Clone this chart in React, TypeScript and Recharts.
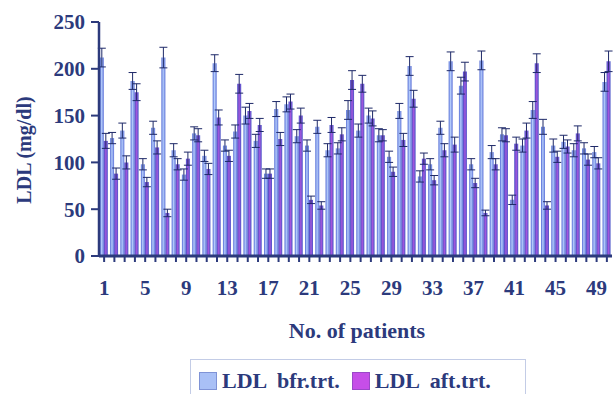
import React from 'react';
import {
  BarChart,
  Bar,
  XAxis,
  YAxis,
  ErrorBar,
  Label,
} from 'recharts';

// patient numbers on the x axis
const patients = [
  '1', '2', '3', '4', '5', '6', '7', '8', '9', '10',
  '11', '12', '13', '14', '15', '16', '17', '18', '19', '20',
  '21', '22', '23', '24', '25', '26', '27', '28', '29', '30',
  '31', '32', '33', '34', '35', '36', '37', '38', '39', '40',
  '41', '42', '43', '44', '45', '46', '47', '48', '49', '50',
];

// LDL before treatment (mg/dl)
const ldlBefore = [
  212, 126, 134, 187, 98, 137, 212, 113, 87, 131,
  107, 206, 118, 133, 150, 123, 88, 157, 162, 128,
  118, 138, 113, 115, 156, 134, 150, 129, 106, 155,
  203, 85, 98, 137, 208, 182, 98, 209, 111, 130,
  60, 118, 156, 138, 118, 122, 113, 115, 111, 186,
];

// LDL after treatment (mg/dl)
const ldlAfter = [
  123, 88, 100, 175, 79, 116, 46, 98, 104, 129,
  93, 148, 107, 184, 155, 140, 88, 125, 165, 150,
  60, 54, 140, 130, 188, 184, 147, 129, 90, 124,
  168, 104, 81, 113, 119, 197, 78, 46, 98, 129,
  120, 134, 206, 54, 106, 117, 131, 103, 99, 208,
];

// standard deviations
const sdBefore = [
  10, 6, 8, 9, 6, 7, 11, 7, 6, 7,
  6, 9, 6, 7, 9, 7, 5, 8, 8, 7,
  6, 7, 7, 6, 10, 7, 8, 7, 6, 8,
  10, 6, 6, 7, 10, 9, 6, 10, 7, 7,
  5, 7, 9, 8, 7, 7, 7, 6, 6, 10,
];

const sdAfter = [
  8, 6, 7, 9, 5, 7, 4, 6, 7, 7,
  6, 8, 6, 10, 8, 7, 5, 7, 8, 8,
  4, 4, 8, 7, 10, 9, 8, 6, 5, 7,
  9, 6, 5, 7, 8, 10, 5, 3, 6, 7,
  7, 8, 10, 4, 6, 7, 8, 6, 6, 11,
];

const yTicks = [0, 50, 100, 150, 200, 250];

const data = patients.map((p, i) => ({
  patient: p,
  before: ldlBefore[i],
  after: ldlAfter[i],
  beforeSd: sdBefore[i],
  afterSd: sdAfter[i],
}));

const NAVY = '#2c3a7c';
const FONT = '"Liberation Serif", "Times New Roman", serif';

// every patient gets a tick mark, only every fourth one a number
const PatientTick = (props: any) => {
  const { x, y, index, payload } = props;
  if (index % 4 !== 0) return <g />;
  return (
    <text
      x={x}
      y={y + 33}
      textAnchor="middle"
      fill={NAVY}
      fontFamily={FONT}
      fontWeight="bold"
      fontSize={21}
    >
      {payload.value}
    </text>
  );
};

const legendItems = [
  { name: 'LDL bfr.trt.', color: '#a9c0f6', border: '#7f93d6' },
  { name: 'LDL aft.trt.', color: '#c64ee8', border: '#9a48c8' },
];

export default function App() {
  return (
    <div
      style={{
        position: 'fixed',
        left: 0,
        top: 0,
        width: 616,
        height: 394,
        background: '#fff',
        overflow: 'hidden',
      }}
    >
      <BarChart
        width={616}
        height={394}
        data={data}
        margin={{ top: 22, right: 4, left: 0, bottom: 48 }}
        barCategoryGap="8%"
        barGap={0}
      >
        <defs>
          <linearGradient id="gradBefore" x1="0" y1="0" x2="1" y2="0">
            <stop offset="0%" stopColor="#5069d4" />
            <stop offset="45%" stopColor="#b4cbfb" />
            <stop offset="100%" stopColor="#5c72d8" />
          </linearGradient>
          <linearGradient id="gradAfter" x1="0" y1="0" x2="1" y2="0">
            <stop offset="0%" stopColor="#4650c6" />
            <stop offset="50%" stopColor="#a456dc" />
            <stop offset="100%" stopColor="#4a56c8" />
          </linearGradient>
        </defs>
        <XAxis
          dataKey="patient"
          interval={0}
          height={90}
          tick={<PatientTick />}
          tickSize={6}
          tickMargin={0}
          axisLine={{ stroke: NAVY, strokeWidth: 3 }}
          tickLine={{ stroke: NAVY, strokeWidth: 2 }}
        >
          <Label
            content={() => (
              <text
                x={357}
                y={338}
                textAnchor="middle"
                fill={NAVY}
                fontFamily={FONT}
                fontWeight="bold"
                fontSize={22}
              >
                No. of patients
              </text>
            )}
          />
        </XAxis>
        <YAxis
          width={99}
          domain={[0, 250]}
          ticks={yTicks}
          interval={0}
          tickSize={8}
          tickMargin={6}
          axisLine={{ stroke: NAVY, strokeWidth: 2.5 }}
          tickLine={{ stroke: NAVY, strokeWidth: 2 }}
          tick={{
            fill: NAVY,
            fontFamily: FONT,
            fontWeight: 'bold',
            fontSize: 21,
          }}
        >
          <Label
            content={() => (
              <text
                x={31}
                y={150}
                transform="rotate(-90 31 150)"
                textAnchor="middle"
                fill={NAVY}
                fontFamily={FONT}
                fontWeight="bold"
                fontSize={20}
              >
                LDL (mg/dl)
              </text>
            )}
          />
        </YAxis>
        <Bar dataKey="before" fill="url(#gradBefore)" isAnimationActive={false}>
          <ErrorBar dataKey="beforeSd" width={4} stroke="#1e2968" strokeWidth={1} />
        </Bar>
        <Bar dataKey="after" fill="url(#gradAfter)" isAnimationActive={false}>
          <ErrorBar dataKey="afterSd" width={4} stroke="#1e2968" strokeWidth={1} />
        </Bar>
      </BarChart>
      <div
        style={{
          position: 'absolute',
          left: 190,
          top: 359,
          width: 336,
          height: 44,
          border: '1px solid #c3cce6',
          boxSizing: 'border-box',
          display: 'flex',
          alignItems: 'flex-start',
          paddingTop: 10,
          paddingLeft: 8,
          fontFamily: FONT,
          fontWeight: 'bold',
          fontSize: 22,
          color: NAVY,
          lineHeight: '22px',
        }}
      >
        {legendItems.map((item) => (
          <div
            key={item.name}
            style={{ display: 'flex', alignItems: 'center', marginRight: 12 }}
          >
            <span
              style={{
                display: 'inline-block',
                width: 16,
                height: 16,
                background: item.color,
                border: `1px solid ${item.border}`,
                marginRight: 5,
              }}
            />
            <span style={{ whiteSpace: 'pre' }}>{item.name.replace(' ', '  ')}</span>
          </div>
        ))}
      </div>
    </div>
  );
}
